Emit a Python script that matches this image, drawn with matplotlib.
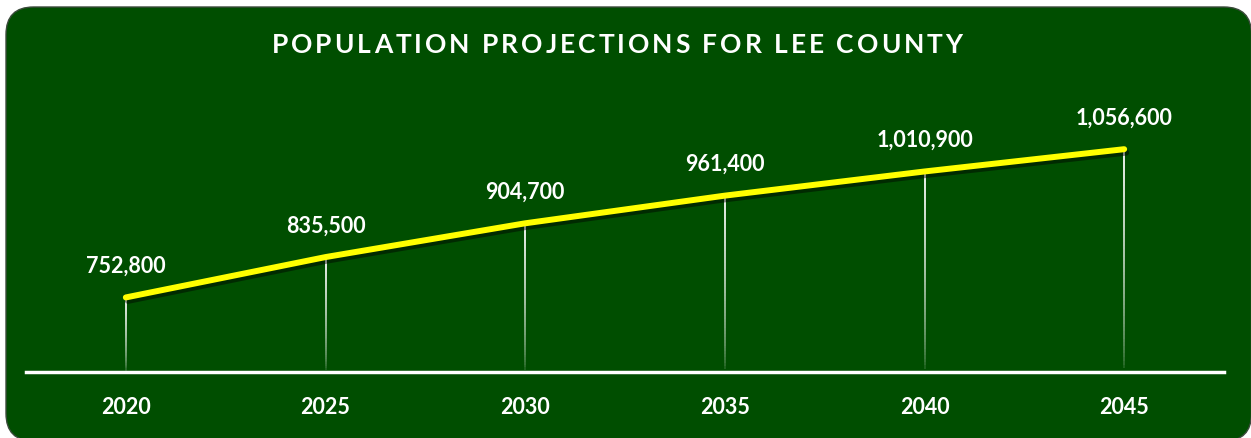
import numpy as np
import matplotlib
matplotlib.use("Agg")
import matplotlib.pyplot as plt
import matplotlib.patheffects as pe
from matplotlib.patches import FancyBboxPatch
from matplotlib.collections import LineCollection

years = ["2020", "2025", "2030", "2035", "2040", "2045"]
population = [752800, 835500, 904700, 961400, 1010900, 1056600]
title = "POPULATION PROJECTIONS FOR LEE COUNTY"

GREEN = "#004e00"
W, H = 1251, 439

plt.rcParams["font.family"] = ["Lato", "DejaVu Sans"]

fig = plt.figure(figsize=(W / 100, H / 100), dpi=100)
fig.patch.set_facecolor("white")

# rounded green panel (runs off the bottom edge)
panel = FancyBboxPatch((6 / W, -3 / H), (1251.5 - 6) / W, (H + 3 - 8) / H,
                       boxstyle="round,pad=0,rounding_size=0.022",
                       transform=fig.transFigure, facecolor=GREEN,
                       edgecolor="#3a4a3a", linewidth=1, mutation_aspect=W / H,
                       zorder=-5)
fig.patches.append(panel)

ax = fig.add_axes([26 / W, 66 / H, 1198 / W, 244 / H])
ax.set_facecolor("none")
ymin, ymax = 600000, 1100000
x = np.arange(len(years))

# fading drop lines
for xi, val in zip(x, population):
    n = 60
    ys = np.linspace(ymin, val, n + 1)
    segs = [[(xi, ys[k]), (xi, ys[k + 1])] for k in range(n)]
    alphas = np.linspace(0.0, 1.0, n) ** 0.5
    cols = [(1, 1, 1, a) for a in alphas]
    ax.add_collection(LineCollection(segs, colors=cols, linewidths=1.3))

ax.plot(x, population, color="#ffff00", linewidth=4.3, solid_capstyle="round",
        zorder=5,
        path_effects=[pe.SimpleLineShadow(offset=(1.5, -2.5), shadow_color="black", alpha=0.45),
                      pe.Normal()])

for xi, val in zip(x, population):
    ax.annotate(f"{val:,}", (xi, val), xytext=(0, 23), textcoords="offset points",
                ha="center", va="center", color="white", fontsize=15.5,
                fontweight="bold")

ax.set_xlim(-0.5, len(years) - 0.5)
ax.set_ylim(ymin, ymax)
ax.axhline(ymin, color="white", linewidth=2.5, zorder=6, clip_on=False)
for s in ax.spines.values():
    s.set_visible(False)
ax.set_yticks([])
ax.set_xticks(x)
ax.set_xticklabels(years, color="white", fontsize=15.5, fontweight="bold")
ax.tick_params(axis="x", length=0, pad=17)

# letter-spaced title, drawn char by char
renderer = fig.canvas.get_renderer()
tkw = dict(color="white", fontsize=19, fontweight="bold", va="center", ha="left")


def text_width(s):
    t = fig.text(0, 0, s + "|", **tkw)
    w = t.get_window_extent(renderer).width
    t.remove()
    t = fig.text(0, 0, "|", **tkw)
    w -= t.get_window_extent(renderer).width
    t.remove()
    return w


spacing = 3.0
total = text_width(title) + spacing * (len(title) - 1)
cx, cy = 617, H - 45
start = cx - total / 2
for i, ch in enumerate(title):
    px = start + text_width(title[:i]) + spacing * i
    fig.text(px / W, cy / H, ch, **tkw)

fig.savefig("out.png", dpi=100, facecolor="white")
